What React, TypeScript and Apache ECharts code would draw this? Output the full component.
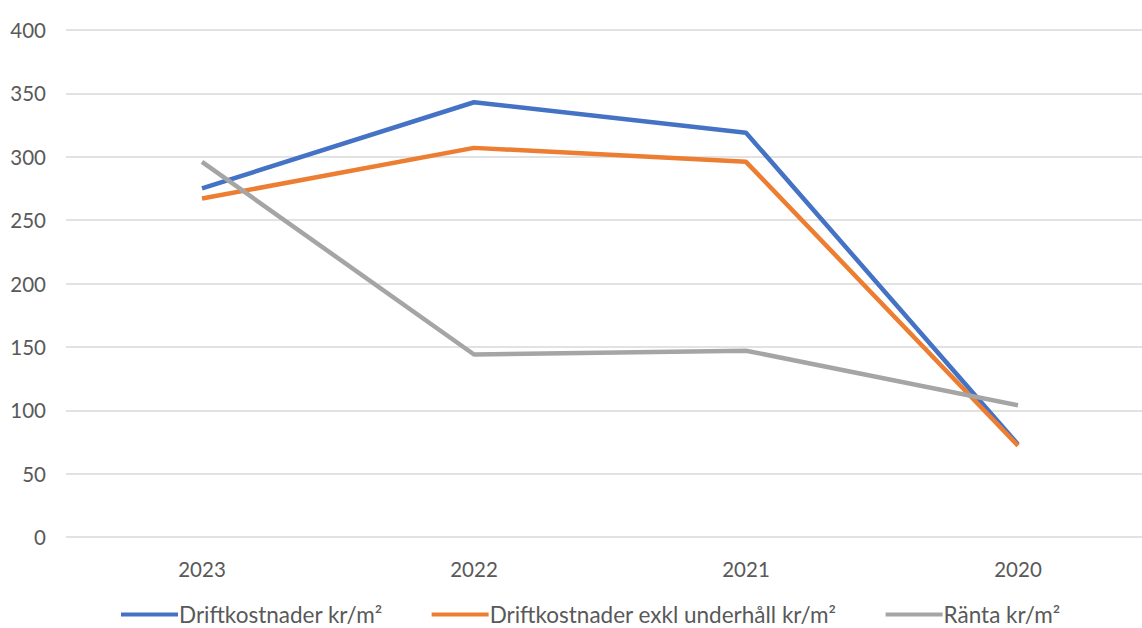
import React, { useEffect, useRef } from "react";
import * as echarts from "echarts";

const categories = ["2023", "2022", "2021", "2020"];
const drift = [275, 343, 319, 73];
const driftExkl = [267, 307, 296, 72];
const ranta = [296, 144, 147, 104];
const seriesNames = ["Driftkostnader kr/m²", "Driftkostnader exkl underhåll kr/m²", "Ränta kr/m²"];
const colors = ["#4472C4", "#ED7D31", "#A5A5A5"];

export default function App() {
  const ref = useRef<HTMLDivElement>(null);
  useEffect(() => {
    document.body.style.margin = "0";
    const chart = echarts.init(ref.current!, null, { renderer: "svg" });
    const font = "Lato, 'Noto Sans', sans-serif";
    chart.setOption({
      animation: false,
      backgroundColor: "#ffffff",
      color: colors,
      grid: { left: 66, width: 1088, top: 30, height: 507, containLabel: false, outerBoundsMode: "none" },
      legend: {
        top: 603,
        left: 121,
        padding: 0,
        itemWidth: 57,
        itemHeight: 4,
        itemGap: 49,
        icon: "rect",
        textStyle: { color: "#595959", fontSize: 22.5, lineHeight: 20, fontFamily: font, padding: [0, 0, 0, -4] },
        data: seriesNames,
      },
      xAxis: {
        type: "category",
        data: categories,
        boundaryGap: true,
        axisLine: { show: false },
        axisTick: { show: false },
        axisLabel: { color: "#595959", fontSize: 20.5, fontFamily: font, margin: 21 },
      },
      yAxis: {
        type: "value",
        min: 0,
        max: 400,
        interval: 50,
        axisLine: { show: false },
        axisTick: { show: false },
        axisLabel: { color: "#595959", fontSize: 20.5, fontFamily: font, margin: 20 },
        splitLine: { lineStyle: { color: "#D9D9D9", width: 1.5 } },
      },
      series: [
        { name: seriesNames[0], type: "line", data: drift, symbol: "none", lineStyle: { width: 4.5, color: colors[0] } },
        { name: seriesNames[1], type: "line", data: driftExkl, symbol: "none", lineStyle: { width: 4.5, color: colors[1] } },
        { name: seriesNames[2], type: "line", data: ranta, symbol: "none", lineStyle: { width: 4.5, color: colors[2] } },
      ],
    });
    return () => chart.dispose();
  }, []);
  return <div ref={ref} style={{ width: 1142, height: 628 }} />;
}
